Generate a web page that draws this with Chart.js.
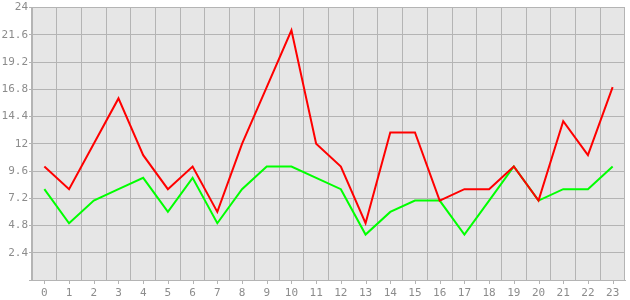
<!DOCTYPE html>
<html>
<head>
<meta charset="utf-8">
<script src="https://cdn.jsdelivr.net/npm/chart.js@4/dist/chart.umd.min.js"></script>
<style>
  html, body { margin: 0; padding: 0; background: #ffffff; }
</style>
</head>
<body>
<canvas id="myChart" width="630" height="300"></canvas>
<script>
const categories = ['0', '1', '2', '3', '4', '5', '6', '7', '8', '9', '10', '11',
                    '12', '13', '14', '15', '16', '17', '18', '19', '20', '21', '22', '23'];
const redValues = [10, 8, 12, 16, 11, 8, 10, 6, 12, 17, 22, 12,
                   10, 5, 13, 13, 7, 8, 8, 10, 7, 14, 11, 17];
const greenValues = [8, 5, 7, 8, 9, 6, 9, 5, 8, 10, 10, 9,
                     8, 4, 6, 7, 7, 4, 7, 10, 7, 8, 8, 10];
const yMin = 0;
const yMax = 24;
const yStep = 2.4;

const gridGray = '#b4b4b4';
const labelGray = '#8c8c8c';

// fills the plot area grey and puts the small x tick marks under each category
const plotBackground = {
    id: 'plotBackground',
    beforeDraw(chart) {
        const a = chart.chartArea;
        const c = chart.ctx;
        c.save();
        c.fillStyle = '#e6e6e6';
        c.fillRect(a.left, a.top, a.right - a.left, a.bottom - a.top);
        c.restore();
    },
    afterDraw(chart) {
        const xs = chart.scales.x;
        const c = chart.ctx;
        c.save();
        c.strokeStyle = gridGray;
        c.lineWidth = 1;
        c.beginPath();
        for (let i = 0; i < categories.length; i++) {
            const px = Math.round(xs.getPixelForValue(i)) + 0.5;
            c.moveTo(px, xs.top);
            c.lineTo(px, xs.top + 4);
        }
        c.stroke();
        c.restore();
    }
};

function myLoadFunction() {
    const ctx = document.getElementById('myChart').getContext('2d');
    const myChartConfig = {
        type: 'line',
        data: {
            labels: categories,
            datasets: [
                {
                    label: 'red',
                    data: redValues,
                    borderColor: '#ff0000',
                    backgroundColor: '#ff0000',
                    borderWidth: 2,
                    pointRadius: 0,
                    tension: 0,
                    fill: false
                },
                {
                    label: 'green',
                    data: greenValues,
                    borderColor: '#00ff00',
                    backgroundColor: '#00ff00',
                    borderWidth: 2,
                    pointRadius: 0,
                    tension: 0,
                    fill: false
                }
            ]
        },
        options: {
            responsive: false,
            animation: false,
            layout: { padding: { top: 5, right: 5, left: 0, bottom: 0 } },
            plugins: {
                legend: { display: false },
                tooltip: { enabled: false }
            },
            scales: {
                x: {
                    offset: true,
                    grid: {
                        offset: true,
                        color: gridGray,
                        drawTicks: false
                    },
                    border: { color: gridGray },
                    ticks: {
                        color: labelGray,
                        padding: 7,
                        maxRotation: 0,
                        autoSkip: false,
                        font: { family: 'DejaVu Sans Mono', size: 11 }
                    },
                    afterFit(scale) { scale.height = 20; }
                },
                y: {
                    min: yMin,
                    max: yMax,
                    grid: {
                        color: gridGray,
                        tickLength: 3
                    },
                    border: { color: gridGray },
                    ticks: {
                        stepSize: yStep,
                        color: labelGray,
                        padding: 1,
                        font: { family: 'DejaVu Sans Mono', size: 11 },
                        callback: function (v) {
                            const r = Math.round(v * 10) / 10;
                            return r === 0 ? '' : String(r);
                        }
                    },
                    afterFit(scale) { scale.width = 32; }
                }
            }
        },
        plugins: [plotBackground]
    };
    const myChart = new Chart(ctx, myChartConfig);
}

document.addEventListener('DOMContentLoaded', myLoadFunction);
</script>
</body>
</html>
